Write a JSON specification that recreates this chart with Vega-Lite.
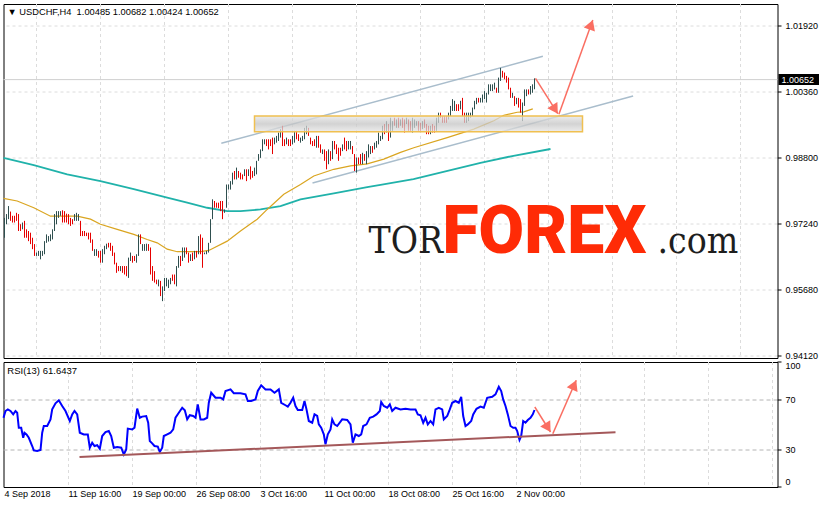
{
"$schema":"https://vega.github.io/schema/vega-lite/v6.json",
"autosize":{"type":"pad"},
"padding":{"left":-1.5,"top":3,"right":0,"bottom":0},
"background":"white",
"spacing":4,
"bounds":"flush",
"config":{
 "view":{"stroke":"black","strokeWidth":1},
 "axis":{"labelFont":"Liberation Sans","labelFontSize":9,"labelColor":"black","translate":0,"titleOpacity":0,"titleFontSize":0}
},
"datasets":{
"bars":[
{"i":0,"h":0.9738,"l":0.9691,"d":1},{"i":1,"h":0.9747,"l":0.9723,"d":1},{"i":2,"h":0.9766,"l":0.9735,"d":1},{"i":3,"h":0.9753,"l":0.9731,"d":0},{"i":4,"h":0.9743,"l":0.9727,"d":0},{"i":5,"h":0.9743,"l":0.9727,"d":0},{"i":6,"h":0.975,"l":0.9731,"d":0},{"i":7,"h":0.9747,"l":0.9707,"d":0},{"i":8,"h":0.9723,"l":0.9707,"d":0},{"i":9,"h":0.9727,"l":0.9711,"d":1},
{"i":10,"h":0.9731,"l":0.9691,"d":0},{"i":11,"h":0.9711,"l":0.9691,"d":0},{"i":12,"h":0.9707,"l":0.9683,"d":0},{"i":13,"h":0.9703,"l":0.9676,"d":0},{"i":14,"h":0.9691,"l":0.9664,"d":0},{"i":15,"h":0.9676,"l":0.9648,"d":0},{"i":16,"h":0.9656,"l":0.9648,"d":1},{"i":17,"h":0.966,"l":0.9648,"d":1},{"i":18,"h":0.966,"l":0.964,"d":1},{"i":19,"h":0.966,"l":0.9648,"d":1},
{"i":20,"h":0.9683,"l":0.9652,"d":1},{"i":21,"h":0.9699,"l":0.9679,"d":1},{"i":22,"h":0.9695,"l":0.9682,"d":1},{"i":23,"h":0.9699,"l":0.9683,"d":1},{"i":24,"h":0.9711,"l":0.9687,"d":1},{"i":25,"h":0.9747,"l":0.9707,"d":1},{"i":26,"h":0.9754,"l":0.9723,"d":1},{"i":27,"h":0.9754,"l":0.9738,"d":1},{"i":28,"h":0.9754,"l":0.9743,"d":1},{"i":29,"h":0.9756,"l":0.9727,"d":0},
{"i":30,"h":0.9754,"l":0.9727,"d":0},{"i":31,"h":0.9748,"l":0.9727,"d":0},{"i":32,"h":0.9747,"l":0.9723,"d":0},{"i":33,"h":0.9738,"l":0.9719,"d":0},{"i":34,"h":0.9735,"l":0.9723,"d":0},{"i":35,"h":0.9747,"l":0.9731,"d":1},{"i":36,"h":0.975,"l":0.9731,"d":1},{"i":37,"h":0.9747,"l":0.9731,"d":1},{"i":38,"h":0.9731,"l":0.9695,"d":0},{"i":39,"h":0.9707,"l":0.9695,"d":0},
{"i":40,"h":0.9707,"l":0.9695,"d":0},{"i":41,"h":0.9703,"l":0.9695,"d":0},{"i":42,"h":0.9703,"l":0.9687,"d":0},{"i":43,"h":0.9703,"l":0.9679,"d":0},{"i":44,"h":0.9687,"l":0.966,"d":0},{"i":45,"h":0.9664,"l":0.9648,"d":1},{"i":46,"h":0.9664,"l":0.9648,"d":1},{"i":47,"h":0.966,"l":0.9644,"d":0},{"i":48,"h":0.966,"l":0.9632,"d":0},{"i":49,"h":0.9664,"l":0.9632,"d":1},
{"i":50,"h":0.9672,"l":0.9652,"d":1},{"i":51,"h":0.9677,"l":0.9664,"d":1},{"i":52,"h":0.9679,"l":0.9668,"d":0},{"i":53,"h":0.9679,"l":0.966,"d":0},{"i":54,"h":0.9672,"l":0.9648,"d":0},{"i":55,"h":0.9656,"l":0.9628,"d":0},{"i":56,"h":0.9632,"l":0.9608,"d":0},{"i":57,"h":0.9624,"l":0.9612,"d":0},{"i":58,"h":0.9624,"l":0.9612,"d":1},{"i":59,"h":0.9624,"l":0.9608,"d":0},
{"i":60,"h":0.9624,"l":0.9604,"d":0},{"i":61,"h":0.9624,"l":0.96,"d":0},{"i":62,"h":0.9644,"l":0.9596,"d":1},{"i":63,"h":0.9656,"l":0.9636,"d":1},{"i":64,"h":0.9648,"l":0.9632,"d":0},{"i":65,"h":0.9648,"l":0.9636,"d":0},{"i":66,"h":0.9652,"l":0.9632,"d":1},{"i":67,"h":0.9699,"l":0.9648,"d":1},{"i":68,"h":0.9699,"l":0.9676,"d":0},{"i":69,"h":0.9676,"l":0.966,"d":1},
{"i":70,"h":0.9676,"l":0.966,"d":1},{"i":71,"h":0.9677,"l":0.966,"d":1},{"i":72,"h":0.9676,"l":0.966,"d":0},{"i":73,"h":0.9668,"l":0.9604,"d":0},{"i":74,"h":0.9624,"l":0.9589,"d":0},{"i":75,"h":0.9612,"l":0.9585,"d":0},{"i":76,"h":0.9592,"l":0.9581,"d":0},{"i":77,"h":0.9592,"l":0.9576,"d":1},{"i":78,"h":0.9589,"l":0.9553,"d":0},{"i":79,"h":0.9576,"l":0.9541,"d":1},
{"i":80,"h":0.9596,"l":0.9565,"d":1},{"i":81,"h":0.9596,"l":0.9576,"d":1},{"i":82,"h":0.9592,"l":0.9572,"d":1},{"i":83,"h":0.9596,"l":0.9581,"d":1},{"i":84,"h":0.9604,"l":0.9589,"d":0},{"i":85,"h":0.9604,"l":0.9581,"d":0},{"i":86,"h":0.9624,"l":0.9576,"d":1},{"i":87,"h":0.9648,"l":0.962,"d":1},{"i":88,"h":0.9648,"l":0.9624,"d":0},{"i":89,"h":0.9668,"l":0.9636,"d":1},
{"i":90,"h":0.9668,"l":0.9644,"d":1},{"i":91,"h":0.9668,"l":0.9652,"d":0},{"i":92,"h":0.9656,"l":0.9632,"d":0},{"i":93,"h":0.9652,"l":0.9636,"d":1},{"i":94,"h":0.9656,"l":0.9636,"d":0},{"i":95,"h":0.966,"l":0.964,"d":1},{"i":96,"h":0.966,"l":0.9644,"d":0},{"i":97,"h":0.9695,"l":0.9652,"d":1},{"i":98,"h":0.9699,"l":0.9652,"d":0},{"i":99,"h":0.9691,"l":0.962,"d":0},
{"i":100,"h":0.9656,"l":0.9652,"d":1},{"i":101,"h":0.966,"l":0.9652,"d":1},{"i":102,"h":0.9679,"l":0.9656,"d":1},{"i":103,"h":0.9735,"l":0.9679,"d":1},{"i":104,"h":0.9782,"l":0.9735,"d":1},{"i":105,"h":0.9778,"l":0.9762,"d":0},{"i":106,"h":0.9774,"l":0.9762,"d":0},{"i":107,"h":0.9774,"l":0.9761,"d":0},{"i":108,"h":0.9778,"l":0.9754,"d":0},{"i":109,"h":0.9778,"l":0.9735,"d":0},
{"i":110,"h":0.9758,"l":0.975,"d":1},{"i":111,"h":0.9817,"l":0.9762,"d":1},{"i":112,"h":0.9817,"l":0.9805,"d":1},{"i":113,"h":0.9825,"l":0.9805,"d":1},{"i":114,"h":0.9845,"l":0.9817,"d":1},{"i":115,"h":0.9849,"l":0.9829,"d":0},{"i":116,"h":0.9857,"l":0.9829,"d":1},{"i":117,"h":0.9849,"l":0.9833,"d":0},{"i":118,"h":0.9845,"l":0.9829,"d":0},{"i":119,"h":0.9841,"l":0.9829,"d":0},
{"i":120,"h":0.9853,"l":0.9837,"d":1},{"i":121,"h":0.9853,"l":0.9825,"d":0},{"i":122,"h":0.9853,"l":0.9837,"d":1},{"i":123,"h":0.986,"l":0.9829,"d":0},{"i":124,"h":0.9849,"l":0.9833,"d":0},{"i":125,"h":0.9857,"l":0.9837,"d":1},{"i":126,"h":0.9873,"l":0.9841,"d":1},{"i":127,"h":0.9889,"l":0.9873,"d":1},{"i":128,"h":0.99,"l":0.988,"d":1},{"i":129,"h":0.9924,"l":0.9896,"d":1},
{"i":130,"h":0.9924,"l":0.9912,"d":1},{"i":131,"h":0.9924,"l":0.9908,"d":0},{"i":132,"h":0.9924,"l":0.99,"d":0},{"i":133,"h":0.9924,"l":0.9908,"d":0},{"i":134,"h":0.9928,"l":0.9889,"d":0},{"i":135,"h":0.9928,"l":0.9912,"d":1},{"i":136,"h":0.9932,"l":0.9916,"d":1},{"i":137,"h":0.994,"l":0.992,"d":1},{"i":138,"h":0.9948,"l":0.9928,"d":1},{"i":139,"h":0.9956,"l":0.9908,"d":0},
{"i":140,"h":0.9924,"l":0.9908,"d":0},{"i":141,"h":0.9928,"l":0.9912,"d":1},{"i":142,"h":0.9924,"l":0.9908,"d":0},{"i":143,"h":0.9924,"l":0.9908,"d":0},{"i":144,"h":0.9932,"l":0.9912,"d":1},{"i":145,"h":0.9944,"l":0.9916,"d":1},{"i":146,"h":0.9944,"l":0.9924,"d":0},{"i":147,"h":0.9936,"l":0.992,"d":0},{"i":148,"h":0.9928,"l":0.9916,"d":1},{"i":149,"h":0.9932,"l":0.992,"d":1},
{"i":150,"h":0.9951,"l":0.9924,"d":1},{"i":151,"h":0.9956,"l":0.9936,"d":1},{"i":152,"h":0.9951,"l":0.9932,"d":0},{"i":153,"h":0.9928,"l":0.9912,"d":0},{"i":154,"h":0.992,"l":0.9908,"d":0},{"i":155,"h":0.9924,"l":0.9908,"d":0},{"i":156,"h":0.9932,"l":0.9904,"d":1},{"i":157,"h":0.9932,"l":0.9904,"d":0},{"i":158,"h":0.9912,"l":0.9892,"d":0},{"i":159,"h":0.99,"l":0.9889,"d":1},
{"i":160,"h":0.99,"l":0.9873,"d":0},{"i":161,"h":0.9896,"l":0.9853,"d":0},{"i":162,"h":0.99,"l":0.9865,"d":1},{"i":163,"h":0.9896,"l":0.9873,"d":0},{"i":164,"h":0.992,"l":0.9877,"d":1},{"i":165,"h":0.992,"l":0.99,"d":0},{"i":166,"h":0.9912,"l":0.9889,"d":0},{"i":167,"h":0.9904,"l":0.9873,"d":0},{"i":168,"h":0.9904,"l":0.9885,"d":0},{"i":169,"h":0.9912,"l":0.9896,"d":1},
{"i":170,"h":0.9928,"l":0.99,"d":0},{"i":171,"h":0.992,"l":0.9896,"d":0},{"i":172,"h":0.992,"l":0.99,"d":1},{"i":173,"h":0.992,"l":0.99,"d":1},{"i":174,"h":0.9908,"l":0.9889,"d":0},{"i":175,"h":0.9889,"l":0.9849,"d":0},{"i":176,"h":0.9881,"l":0.9845,"d":1},{"i":177,"h":0.9881,"l":0.9865,"d":0},{"i":178,"h":0.9889,"l":0.9865,"d":0},{"i":179,"h":0.9892,"l":0.9865,"d":1},
{"i":180,"h":0.9889,"l":0.9873,"d":0},{"i":181,"h":0.9896,"l":0.9865,"d":1},{"i":182,"h":0.9912,"l":0.9881,"d":1},{"i":183,"h":0.9908,"l":0.9889,"d":1},{"i":184,"h":0.9908,"l":0.9892,"d":0},{"i":185,"h":0.9916,"l":0.99,"d":1},{"i":186,"h":0.992,"l":0.9904,"d":1},{"i":187,"h":0.994,"l":0.9912,"d":1},{"i":188,"h":0.9932,"l":0.992,"d":1},{"i":189,"h":0.9956,"l":0.9924,"d":1},
{"i":190,"h":0.996,"l":0.9936,"d":0},{"i":191,"h":0.9967,"l":0.994,"d":1},{"i":192,"h":0.996,"l":0.992,"d":0},{"i":193,"h":0.9975,"l":0.9928,"d":1},{"i":194,"h":0.9967,"l":0.9944,"d":1},{"i":195,"h":0.9975,"l":0.9956,"d":0},{"i":196,"h":0.9971,"l":0.9951,"d":1},{"i":197,"h":0.9975,"l":0.9951,"d":0},{"i":198,"h":0.9971,"l":0.9956,"d":1},{"i":199,"h":0.9975,"l":0.9951,"d":0},
{"i":200,"h":0.9971,"l":0.994,"d":0},{"i":201,"h":0.9975,"l":0.996,"d":1},{"i":202,"h":0.9971,"l":0.9944,"d":0},{"i":203,"h":0.9967,"l":0.9944,"d":0},{"i":204,"h":0.9975,"l":0.994,"d":1},{"i":205,"h":0.9971,"l":0.9951,"d":1},{"i":206,"h":0.9967,"l":0.9956,"d":1},{"i":207,"h":0.9967,"l":0.9944,"d":0},{"i":208,"h":0.9963,"l":0.9944,"d":0},{"i":209,"h":0.9967,"l":0.9948,"d":1},
{"i":210,"h":0.9971,"l":0.9951,"d":0},{"i":211,"h":0.996,"l":0.9936,"d":0},{"i":212,"h":0.9956,"l":0.9936,"d":0},{"i":213,"h":0.9956,"l":0.9936,"d":1},{"i":214,"h":0.996,"l":0.994,"d":0},{"i":215,"h":0.9956,"l":0.994,"d":0},{"i":216,"h":0.9975,"l":0.9944,"d":1},{"i":217,"h":0.9987,"l":0.9963,"d":1},{"i":218,"h":0.9987,"l":0.9975,"d":0},{"i":219,"h":0.9979,"l":0.9963,"d":0},
{"i":220,"h":0.9979,"l":0.9963,"d":0},{"i":221,"h":0.9979,"l":0.9963,"d":0},{"i":222,"h":0.9987,"l":0.9971,"d":1},{"i":223,"h":1.0003,"l":0.9979,"d":1},{"i":224,"h":1.0019,"l":0.9991,"d":1},{"i":225,"h":1.0015,"l":0.9991,"d":1},{"i":226,"h":1.0007,"l":0.9991,"d":0},{"i":227,"h":1.0007,"l":0.9991,"d":0},{"i":228,"h":1.0015,"l":0.9995,"d":1},{"i":229,"h":1.0022,"l":0.9979,"d":0},
{"i":230,"h":0.9987,"l":0.9963,"d":0},{"i":231,"h":0.9987,"l":0.9963,"d":1},{"i":232,"h":0.9987,"l":0.9967,"d":1},{"i":233,"h":0.9987,"l":0.9975,"d":1},{"i":234,"h":0.9999,"l":0.9979,"d":1},{"i":235,"h":1.0015,"l":0.9995,"d":1},{"i":236,"h":1.0022,"l":1.0007,"d":1},{"i":237,"h":1.0022,"l":1.0011,"d":0},{"i":238,"h":1.0022,"l":1.0011,"d":1},{"i":239,"h":1.003,"l":1.0011,"d":1},
{"i":240,"h":1.0038,"l":1.0019,"d":1},{"i":241,"h":1.0034,"l":1.0011,"d":1},{"i":242,"h":1.0054,"l":1.003,"d":1},{"i":243,"h":1.0054,"l":1.0038,"d":1},{"i":244,"h":1.0054,"l":1.0038,"d":1},{"i":245,"h":1.0058,"l":1.0042,"d":1},{"i":246,"h":1.0046,"l":1.0034,"d":0},{"i":247,"h":1.007,"l":1.0034,"d":1},{"i":248,"h":1.0093,"l":1.0062,"d":1},{"i":249,"h":1.0086,"l":1.007,"d":0},
{"i":250,"h":1.0082,"l":1.0066,"d":0},{"i":251,"h":1.0074,"l":1.0058,"d":0},{"i":252,"h":1.007,"l":1.0042,"d":0},{"i":253,"h":1.0046,"l":1.0022,"d":0},{"i":254,"h":1.0034,"l":1.0022,"d":1},{"i":255,"h":1.0026,"l":1.0003,"d":0},{"i":256,"h":1.0022,"l":1.0007,"d":1},{"i":257,"h":1.0022,"l":0.9999,"d":0},{"i":258,"h":1.0019,"l":0.9987,"d":0},{"i":259,"h":1.0011,"l":0.9967,"d":1},
{"i":260,"h":1.0042,"l":1.0003,"d":1},{"i":261,"h":1.0042,"l":1.0026,"d":1},{"i":262,"h":1.0042,"l":1.003,"d":0},{"i":263,"h":1.005,"l":1.003,"d":1},{"i":264,"h":1.0054,"l":1.0034,"d":1},{"i":265,"h":1.00682,"l":1.00424,"d":1}
],
"ma50":[
{"i":-0.5,"p":0.9784},{"i":6.35,"p":0.9778},{"i":14.65,"p":0.9762},{"i":23,"p":0.9742},{"i":36.35,"p":0.9742},{"i":43,"p":0.9735},{"i":48,"p":0.9723},{"i":56.35,"p":0.9711},{"i":64.65,"p":0.9699},{"i":71.35,"p":0.9687},{"i":76.35,"p":0.9679},{"i":81.35,"p":0.9664},{"i":86.35,"p":0.9658},{"i":98,"p":0.9658},{"i":102.15,"p":0.9661},{"i":111.35,"p":0.9683},{"i":118,"p":0.9707},{"i":126.35,"p":0.9735},{"i":131.35,"p":0.9758},{"i":139.65,"p":0.9794},{"i":148,"p":0.9817},{"i":154.65,"p":0.9837},{"i":164.65,"p":0.9853},{"i":173,"p":0.9861},{"i":181.35,"p":0.9866},{"i":189.65,"p":0.9877},{"i":198,"p":0.9893},{"i":204.65,"p":0.9904},{"i":221.35,"p":0.9928},{"i":234.65,"p":0.9948},{"i":244.65,"p":0.9968},{"i":249.65,"p":0.9981},{"i":256.35,"p":0.9988},{"i":259.65,"p":0.9989},{"i":264.15,"p":0.9996}
],
"ma200":[
{"i":-0.5,"p":0.988},{"i":14.65,"p":0.9863},{"i":31.35,"p":0.9841},{"i":48,"p":0.9825},{"i":64.65,"p":0.9806},{"i":81.35,"p":0.9786},{"i":91.35,"p":0.9774},{"i":101.35,"p":0.9762},{"i":111.35,"p":0.9754},{"i":118,"p":0.9754},{"i":128,"p":0.9758},{"i":138,"p":0.9766},{"i":148,"p":0.9782},{"i":164.65,"p":0.9796},{"i":181.35,"p":0.9811},{"i":188,"p":0.9816},{"i":204.5,"p":0.983},{"i":221.5,"p":0.9849},{"i":238,"p":0.9868},{"i":254.5,"p":0.9885},{"i":273,"p":0.9901}
],
"rsi":[
{"i":-0.5,"r":55.4},{"i":0.5,"r":60.8},{"i":1.65,"r":62.1},{"i":3,"r":60.8},{"i":4.35,"r":58.1},{"i":5.5,"r":60.8},{"i":6.35,"r":59.4},{"i":7.15,"r":47.4},{"i":8.35,"r":47.4},{"i":9.35,"r":39.4},{"i":10,"r":43.4},{"i":11,"r":42.1},{"i":12.15,"r":39.4},{"i":13.85,"r":32.8},{"i":14.65,"r":29.3},{"i":16.35,"r":28.8},{"i":18,"r":29.6},{"i":18.85,"r":43.4},{"i":19.65,"r":48.8},{"i":21.35,"r":48.8},{"i":23,"r":54.1},{"i":23.85,"r":62.1},{"i":25.5,"r":67},{"i":27.15,"r":69.4},{"i":28.85,"r":64.8},{"i":30.5,"r":60.8},{"i":32.65,"r":52.8},{"i":33.85,"r":58.1},{"i":35,"r":60.8},{"i":36.35,"r":58.1},{"i":37.65,"r":43.4},{"i":39.65,"r":42.1},{"i":41.65,"r":42.1},{"i":42.65,"r":31.4},{"i":43.85,"r":35.4},{"i":45,"r":32.8},{"i":46.35,"r":33.4},{"i":47.65,"r":30.6},{"i":48.85,"r":40.8},{"i":50.5,"r":44},{"i":52.15,"r":44.8},{"i":53.35,"r":40.8},{"i":54.65,"r":31.4},{"i":56.35,"r":32},{"i":58.35,"r":31.4},{"i":59.65,"r":26.1},{"i":60.85,"r":30.1},{"i":61.65,"r":46.7},{"i":63.85,"r":46.1},{"i":65,"r":47.4},{"i":66.35,"r":62.7},{"i":67.65,"r":55.4},{"i":68.85,"r":56.3},{"i":70.85,"r":56.8},{"i":71.85,"r":51.4},{"i":72.65,"r":36.8},{"i":73.85,"r":34.9},{"i":75,"r":32.8},{"i":76.65,"r":32.3},{"i":77.65,"r":28},{"i":78.85,"r":31.4},{"i":79.65,"r":40.8},{"i":81.35,"r":42.1},{"i":83,"r":43.4},{"i":84.35,"r":46.1},{"i":85.5,"r":55.4},{"i":87.15,"r":59.4},{"i":88.85,"r":63.4},{"i":90.15,"r":61.4},{"i":91.35,"r":54.1},{"i":92.65,"r":57.4},{"i":94.35,"r":56.8},{"i":95.5,"r":55.4},{"i":96.65,"r":66.1},{"i":98,"r":54.1},{"i":99.65,"r":54.1},{"i":101.35,"r":55.4},{"i":102.15,"r":67.4},{"i":103.35,"r":75.4},{"i":105.5,"r":71.4},{"i":108,"r":71.4},{"i":109.35,"r":70.1},{"i":110.5,"r":76.8},{"i":113,"r":78.1},{"i":114.65,"r":75},{"i":118,"r":75},{"i":120.5,"r":74.1},{"i":121.65,"r":68.8},{"i":123.35,"r":68.8},{"i":125.5,"r":70.1},{"i":126.65,"r":76.8},{"i":128.35,"r":81.4},{"i":130.5,"r":78.1},{"i":133,"r":78.1},{"i":135,"r":75.4},{"i":137.15,"r":78.1},{"i":138.35,"r":67.4},{"i":140.5,"r":65.4},{"i":141.65,"r":64.3},{"i":143,"r":67.4},{"i":144.35,"r":71.4},{"i":145.5,"r":64.8},{"i":146.65,"r":61.6},{"i":148.85,"r":61.6},{"i":150,"r":68.8},{"i":151,"r":62.1},{"i":152.15,"r":52.8},{"i":153.85,"r":51.4},{"i":155,"r":58.1},{"i":156.35,"r":56.8},{"i":157.15,"r":50.1},{"i":158.35,"r":47.4},{"i":159.65,"r":42.1},{"i":160.5,"r":34.1},{"i":161.65,"r":42.1},{"i":163,"r":46.1},{"i":163.85,"r":54.1},{"i":165,"r":50.1},{"i":166.35,"r":48.8},{"i":168.85,"r":54.1},{"i":171.35,"r":53.6},{"i":173,"r":50.1},{"i":174.15,"r":35.4},{"i":175.5,"r":42.1},{"i":177.15,"r":40.8},{"i":178.35,"r":42.1},{"i":179.35,"r":48.8},{"i":181,"r":50.1},{"i":182.65,"r":55.4},{"i":184.35,"r":56.3},{"i":186,"r":58.1},{"i":187.65,"r":60.8},{"i":188.35,"r":68},{"i":189.65,"r":64.8},{"i":191.35,"r":63.4},{"i":192.65,"r":66.1},{"i":193.85,"r":60.8},{"i":195.5,"r":63.4},{"i":198,"r":62.1},{"i":200.5,"r":62.6},{"i":203,"r":62.1},{"i":205.5,"r":62.1},{"i":206.65,"r":58.1},{"i":208,"r":57.4},{"i":209.35,"r":51.4},{"i":210.5,"r":55.4},{"i":211.65,"r":50.1},{"i":213,"r":52.8},{"i":214.35,"r":50.1},{"i":215.5,"r":62.1},{"i":217.15,"r":63.4},{"i":218.85,"r":62.1},{"i":219.65,"r":54.1},{"i":221.35,"r":56.8},{"i":222.65,"r":62.1},{"i":223.85,"r":67.4},{"i":225.5,"r":68.8},{"i":227.15,"r":67.4},{"i":228.35,"r":72.2},{"i":229.35,"r":56.8},{"i":230.5,"r":48.8},{"i":231.65,"r":50.1},{"i":233.35,"r":52.8},{"i":234.35,"r":58.1},{"i":236,"r":62.6},{"i":238,"r":64.3},{"i":239.65,"r":63.4},{"i":241.35,"r":71.4},{"i":243.85,"r":72.2},{"i":245.5,"r":74.1},{"i":247.15,"r":80.2},{"i":248.35,"r":76.8},{"i":249.35,"r":70.1},{"i":250.5,"r":64.8},{"i":251.65,"r":58.1},{"i":253,"r":48.8},{"i":254.35,"r":47.4},{"i":255.5,"r":47.4},{"i":256.35,"r":44.8},{"i":257.5,"r":37.6},{"i":258.35,"r":40.8},{"i":259.35,"r":52.8},{"i":260.5,"r":51.4},{"i":261.65,"r":53.6},{"i":263,"r":55.4},{"i":264.15,"r":58.1},{"i":265,"r":61.6}
],
"channel":[{"i":108.4,"p":0.99145,"i2":269.2,"p2":1.01204},{"i":154,"p":0.98206,"i2":314.3,"p2":1.00264}],
"arrowsMain":[{"i":265.5,"p":1.00683,"i2":276.65,"p2":0.99846},{"i":277.2,"p":0.9983,"i2":294.15,"p2":1.02062}],
"headsMain":[{"i":275.3,"p":0.99945,"a":148},{"i":293.3,"p":1.0195,"a":20}],
"arrowsRsi":[{"i":265.15,"r":64,"i2":273,"r2":44},{"i":274.15,"r":42.6,"i2":285.85,"r2":85.4}],
"headsRsi":[{"i":271.7,"r":47.4,"a":148},{"i":284.85,"r":81.7,"a":24}],
"trend":[{"i":37.5,"r":24,"i2":305.5,"r2":43.8}]
},
"vconcat":[
{
 "width":774,"height":354,
 "layer":[
  {"data":{"values":[{"p":1.00652}]},"mark":{"type":"rule","color":"#cfcfcf","strokeWidth":1},
   "encoding":{"y":{"field":"p","type":"quantitative","title":null,"scale":{"domain":[0.94065,1.02441],"nice":false,"zero":false},
    "axis":{"orient":"right","values":[0.9412,0.949,0.9568,0.9646,0.9724,0.9802,0.988,0.9958,1.0036,1.0114,1.0192],"format":".5f","tickSize":4,"tickColor":"black","labelPadding":4,"domain":false,"grid":true,"gridColor":"#dcdcdc","gridDash":[3,3],"title":null}}}},
  {"data":{"name":"ma200"},"mark":{"type":"line","color":"#20b2aa","strokeWidth":1.8},
   "encoding":{"x":{"field":"i","type":"quantitative","title":null},"y":{"field":"p","type":"quantitative","title":null}}},
  {"data":{"name":"ma50"},"mark":{"type":"line","color":"#daa520","strokeWidth":1.2},
   "encoding":{"x":{"field":"i","type":"quantitative","title":null},"y":{"field":"p","type":"quantitative","title":null}}},
  {"data":{"name":"channel"},"mark":{"type":"rule","color":"#a9bdcc","strokeWidth":1.5},
   "encoding":{"x":{"field":"i","type":"quantitative","title":null},"x2":{"field":"i2"},"y":{"field":"p","type":"quantitative","title":null},"y2":{"field":"p2"}}},
  {"data":{"name":"bars"},"mark":{"type":"rule","strokeWidth":1},
   "encoding":{"x":{"field":"i","type":"quantitative","title":null,"scale":{"domain":[-0.5,386.5],"nice":false,"zero":false},
     "axis":{"orient":"bottom","values":[16,32,48,64,80,96,112,128,144,160,176,192,208,224,240,256,272,288,304,320,336,352,368,384],"labels":false,"ticks":false,"domain":false,"grid":true,"gridColor":"#dcdcdc","gridDash":[3,3],"title":null}},
    "y":{"field":"l","type":"quantitative","title":null},"y2":{"field":"h"},
    "color":{"field":"d","type":"nominal","scale":{"domain":[0,1],"range":["#e60000","#2f4f4f"]},"legend":null}}},
  {"data":{"values":[{"n":"zone"}]},"mark":{"type":"rect","fill":{"gradient":"linear","x1":0,"y1":0,"x2":0,"y2":1,"stops":[{"offset":0,"color":"#e6e6e6"},{"offset":0.5,"color":"#c4c4c4"},{"offset":1,"color":"#e6e6e6"}]},"fillOpacity":0.75,"stroke":"#f0c050","strokeWidth":1.5},
   "encoding":{"x":{"datum":125},"x2":{"datum":289},"y":{"datum":0.9942},"y2":{"datum":0.99791}}},
  {"data":{"name":"arrowsMain"},"mark":{"type":"rule","color":"#fa6e62","strokeWidth":1.5},
   "encoding":{"x":{"field":"i","type":"quantitative"},"x2":{"field":"i2"},"y":{"field":"p","type":"quantitative"},"y2":{"field":"p2"}}},
  {"data":{"name":"headsMain"},"mark":{"type":"point","shape":"triangle-up","filled":true,"color":"#fa6e62","opacity":1,"size":140},
   "encoding":{"x":{"field":"i","type":"quantitative"},"y":{"field":"p","type":"quantitative"},"angle":{"field":"a","type":"quantitative","scale":null}}},
  {"data":{"values":[{"t":"▼ USDCHF,H4\u00a0\u00a01.00485 1.00682 1.00424 1.00652"}]},"mark":{"type":"text","align":"left","baseline":"middle","font":"Liberation Sans","fontSize":9.3,"color":"black"},
   "encoding":{"x":{"datum":1.5},"y":{"datum":1.0225},"text":{"field":"t"}}},
  {"data":{"values":[{"t":"TOR"}]},"mark":{"type":"text","align":"left","baseline":"alphabetic","font":"DejaVu Serif Condensed, DejaVu Serif","fontSize":37,"color":"#1e1e1e"},
   "encoding":{"x":{"datum":182},"y":{"datum":0.9655},"text":{"field":"t"}}},
  {"data":{"values":[{"t":"FOREX"}]},"mark":{"type":"text","align":"left","baseline":"alphabetic","font":"Roboto","fontWeight":900,"fontSize":66,"color":"#ff2b06"},
   "encoding":{"x":{"datum":219},"y":{"datum":0.9655},"text":{"field":"t"}}},
  {"data":{"values":[{"t":".com"}]},"mark":{"type":"text","align":"left","baseline":"alphabetic","font":"DejaVu Serif Condensed, DejaVu Serif","fontSize":37,"color":"#1e1e1e"},
   "encoding":{"x":{"datum":326.5},"y":{"datum":0.9655},"text":{"field":"t"}}},
  {"data":{"values":[{"n":"price"}]},"mark":{"type":"rect","color":"black","clip":false},
   "encoding":{"x":{"datum":387},"x2":{"datum":407.5},"y":{"datum":1.00785},"y2":{"datum":1.00525}}},
  {"data":{"values":[{"t":"1.00652"}]},"mark":{"type":"text","align":"left","baseline":"middle","font":"Liberation Sans","fontSize":9,"color":"white","clip":false},
   "encoding":{"x":{"datum":388.5},"y":{"datum":1.00652},"text":{"field":"t"}}}
 ]
},
{
 "width":774,"height":125,
 "layer":[
  {"data":{"name":"rsi"},"mark":{"type":"line","color":"#0000ff","strokeWidth":2},
   "encoding":{"x":{"field":"i","type":"quantitative","title":null,"scale":{"domain":[-0.5,386.5],"nice":false,"zero":false},
     "axis":{"orient":"bottom","values":[0,16,32,48,64,80,96,112,128,144,160,176,192,208,224,240,256,272,288,304,320,336,352,368,384],
      "labelExpr":"datum.value == 0 ? '4 Sep 2018' : datum.value == 32 ? '11 Sep 16:00' : datum.value == 64 ? '19 Sep 00:00' : datum.value == 96 ? '26 Sep 08:00' : datum.value == 128 ? '3 Oct 16:00' : datum.value == 160 ? '11 Oct 00:00' : datum.value == 192 ? '18 Oct 08:00' : datum.value == 224 ? '25 Oct 16:00' : datum.value == 256 ? '2 Nov 00:00' : ''",
      "labelAlign":"left","labelBaseline":"top","labelPadding":3,"labelOverlap":false,"labelFlush":false,"labelBound":false,"ticks":false,"domain":false,"grid":true,"gridColor":"#dcdcdc","gridDash":[3,3],
      "gridOpacity":{"condition":{"test":"datum.value == 0","value":0},"value":1},"title":null}},
    "y":{"field":"r","type":"quantitative","title":null,"scale":{"domain":[0,100],"nice":false,"zero":false},
     "axis":{"orient":"right","values":[0,30,70,100],"tickSize":4,"tickColor":"black","labelPadding":4,"labelFlush":true,"domain":false,"grid":true,"gridColor":"#b4b4b4","gridDash":[4,3],
      "gridOpacity":{"condition":{"test":"datum.value == 0 || datum.value == 100","value":0},"value":1},"title":null}}}},
  {"data":{"name":"trend"},"mark":{"type":"rule","color":"#a4585a","strokeWidth":2},
   "encoding":{"x":{"field":"i","type":"quantitative"},"x2":{"field":"i2"},"y":{"field":"r","type":"quantitative"},"y2":{"field":"r2"}}},
  {"data":{"name":"arrowsRsi"},"mark":{"type":"rule","color":"#fa6e62","strokeWidth":1.5},
   "encoding":{"x":{"field":"i","type":"quantitative"},"x2":{"field":"i2"},"y":{"field":"r","type":"quantitative"},"y2":{"field":"r2"}}},
  {"data":{"name":"headsRsi"},"mark":{"type":"point","shape":"triangle-up","filled":true,"color":"#fa6e62","opacity":1,"size":140},
   "encoding":{"x":{"field":"i","type":"quantitative"},"y":{"field":"r","type":"quantitative"},"angle":{"field":"a","type":"quantitative","scale":null}}},
  {"data":{"values":[{"t":"RSI(13) 61.6437"}]},"mark":{"type":"text","align":"left","baseline":"middle","font":"Liberation Sans","fontSize":9.5,"color":"black"},
   "encoding":{"x":{"datum":1.4},"y":{"datum":93},"text":{"field":"t"}}}
 ]
}
]
}
